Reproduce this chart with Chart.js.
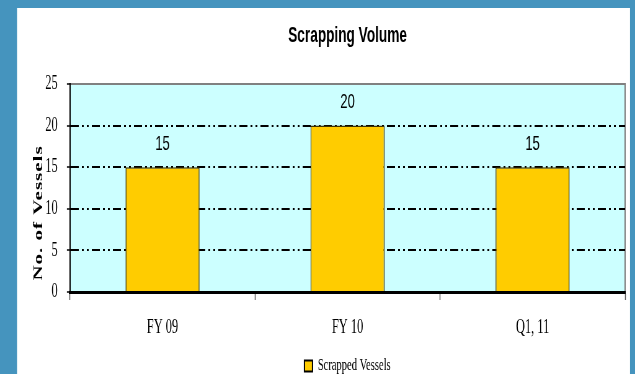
<!DOCTYPE html>
<html>
<head>
<meta charset="utf-8">
<title>Scrapping Volume</title>
<script src="https://cdn.jsdelivr.net/npm/chart.js@4.4.0/dist/chart.umd.min.js"></script>
<style>
  html, body { margin: 0; padding: 0; background: #4594be; overflow: hidden; }
  #chart { display: block; }
</style>
</head>
<body>
<!-- drawn wide and squeezed to page width, which gives the narrow type -->
<canvas id="chart" width="1024" height="374" style="width:635px;height:374px"></canvas>
<script>
// ---- Data ----
const categories = ['FY 09', 'FY 10', 'Q1, 11'];
const scrappedVessels = [15, 20, 15];
const yTicks = [0, 5, 10, 15, 20, 25];

const SERIF = '"Liberation Serif", "Times New Roman", serif';
const SANS = '"Liberation Sans", Arial, sans-serif';

// page px -> canvas units (horizontal only)
const SX = 1024 / 635;
const px = x => x * SX;

// ---- Background: blue frame, white panel, cyan plot area ----
const frame = {
  id: 'frame',
  beforeDraw(chart) {
    const { ctx, width, height, chartArea: a } = chart;
    ctx.save();
    ctx.fillStyle = '#4594be';
    ctx.fillRect(0, 0, width, height);
    ctx.fillStyle = '#ffffff';
    ctx.fillRect(px(17), 8, px(630) - px(17), height - 8);
    ctx.fillStyle = '#ccffff';
    ctx.fillRect(a.left, a.top, a.right - a.left, a.bottom - a.top);
    ctx.strokeStyle = '#808080';
    ctx.lineWidth = 2;
    ctx.beginPath();
    ctx.moveTo(a.left, a.top);
    ctx.lineTo(a.right, a.top);
    ctx.lineTo(a.right, a.bottom);
    ctx.stroke();
    ctx.restore();
  }
};

// ---- Value labels over the bars ----
const barValues = {
  id: 'barValues',
  afterDatasetsDraw(chart) {
    const { ctx } = chart;
    const meta = chart.getDatasetMeta(0);
    ctx.save();
    ctx.font = '21px ' + SANS;
    ctx.fillStyle = '#000';
    ctx.textAlign = 'center';
    ctx.textBaseline = 'middle';
    meta.data.forEach((bar, i) => {
      ctx.fillText(String(scrappedVessels[i]), bar.x, bar.y - 23);
    });
    ctx.restore();
  }
};

// ---- Rotated y axis title ----
const yTitle = {
  id: 'yTitle',
  afterDraw(chart) {
    const { ctx, chartArea: a } = chart;
    ctx.save();
    ctx.translate(px(39), (a.top + a.bottom) / 2 + 25);
    ctx.rotate(-Math.PI / 2);
    ctx.font = 'bold 21px ' + SERIF;
    ctx.letterSpacing = '1px';
    ctx.fillStyle = '#000';
    ctx.textAlign = 'center';
    ctx.textBaseline = 'middle';
    ctx.fillText('No. of Vessels', 0, 0);
    ctx.restore();
  }
};

new Chart(document.getElementById('chart'), {
  type: 'bar',
  data: {
    labels: categories,
    datasets: [{
      label: 'Scrapped Vessels',
      data: scrappedVessels,
      backgroundColor: '#ffcc00',
      borderColor: '#3d3200',
      borderWidth: 1.5,
      categoryPercentage: 1,
      barPercentage: 0.4
    }]
  },
  options: {
    responsive: false,
    animation: false,
    layout: { padding: { left: 0, right: 16, top: 0, bottom: -10.5 } },
    plugins: {
      title: {
        display: true,
        fullSize: false,
        text: 'Scrapping Volume',
        color: '#000',
        font: { family: SANS, size: 22, weight: 'bold' },
        padding: { top: 23, bottom: 34.6 }
      },
      legend: {
        position: 'bottom',
        fullSize: false,
        labels: {
          boxWidth: 13,
          boxHeight: 11,
          padding: 4,
          color: '#000',
          font: { family: SERIF, size: 17 },
          generateLabels(chart) {
            return Chart.defaults.plugins.legend.labels.generateLabels(chart)
              .map(item => Object.assign(item, { strokeStyle: '#000', lineWidth: 2 }));
          }
        }
      },
      tooltip: { enabled: false }
    },
    scales: {
      x: {
        grid: { offset: true, drawOnChartArea: false, tickLength: 8, tickColor: '#555', tickWidth: 1.5 },
        border: { color: '#000', width: 3 },
        ticks: { color: '#000', font: { family: SERIF, size: 20 }, padding: 16 },
        afterFit(s) { s.height = 61.5; }
      },
      y: {
        min: 0,
        max: 25,
        afterBuildTicks(s) { s.ticks = yTicks.map(v => ({ value: v })); },
        ticks: { color: '#000', font: { family: SERIF, size: 20 }, padding: 15 },
        grid: {
          color: c => (c.tick && (c.tick.value === 0 || c.tick.value === 25)) ? 'rgba(0,0,0,0)' : '#000',
          lineWidth: 2,
          tickLength: 5,
          tickColor: '#000',
          tickWidth: 1.5
        },
        border: { color: '#000', width: 2, dash: [13, 5, 3, 5, 3, 5] },
        afterFit(s) { s.width = px(70); }
      }
    }
  },
  plugins: [frame, barValues, yTitle]
});
</script>
</body>
</html>
